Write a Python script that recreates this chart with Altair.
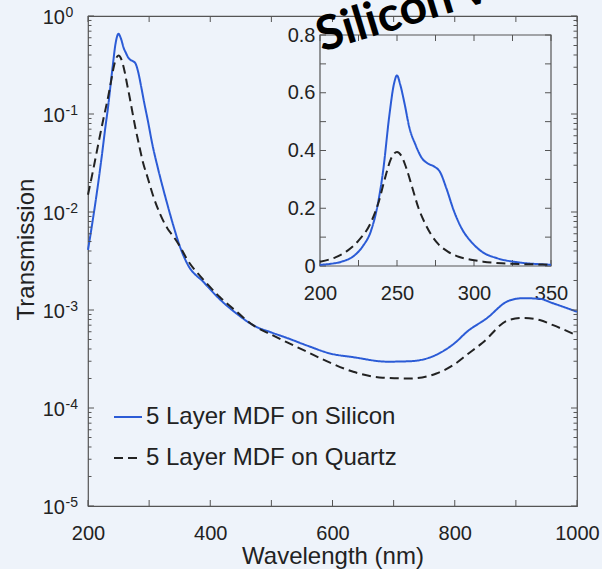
import altair as alt
import pandas as pd

# ---------------- data ----------------
wl_silicon = [200, 206, 214, 222, 228, 233, 237, 241, 245, 248, 250, 252, 255, 258, 262,
              266, 270, 274, 278, 282, 287, 292, 298, 305, 315, 329, 341, 350, 362, 390,
              416, 445, 470, 500, 525, 560, 596, 634, 690, 727, 776, 800, 820, 852, 888,
              912, 939, 961, 1000]
t_silicon = [0.0041, 0.0070, 0.015, 0.035, 0.07, 0.12, 0.20, 0.33, 0.52, 0.63, 0.66, 0.63,
             0.56, 0.48, 0.42, 0.375, 0.355, 0.345, 0.325, 0.27, 0.19, 0.13, 0.085, 0.050,
             0.027, 0.0125, 0.0068, 0.0045, 0.0030, 0.0019, 0.00128, 9.0e-4, 7.0e-4, 5.9e-4,
             5.2e-4, 4.3e-4, 3.6e-4, 3.3e-4, 2.97e-4, 3.0e-4, 3.65e-4, 4.6e-4, 6.0e-4,
             8.2e-4, 1.24e-3, 1.32e-3, 1.3e-3, 1.17e-3, 9.6e-4]

wl_quartz = [200, 210, 217, 225, 233, 238, 242, 246, 250, 253, 256, 260, 264, 268, 272,
             277, 283, 290, 298, 306, 318, 330, 340, 350, 362, 390, 416, 445, 470, 500,
             525, 560, 596, 634, 682, 727, 770, 798, 820, 845, 888, 912, 939, 961, 1000]
t_quartz = [0.015, 0.030, 0.050, 0.088, 0.15, 0.22, 0.30, 0.37, 0.395, 0.38, 0.34, 0.27,
            0.20, 0.15, 0.11, 0.075, 0.050, 0.032, 0.022, 0.015, 0.0095, 0.0068, 0.0056,
            0.0045, 0.0033, 0.0020, 0.00135, 9.4e-4, 7.0e-4, 5.6e-4, 4.7e-4, 3.7e-4, 2.9e-4,
            2.34e-4, 2.04e-4, 2.0e-4, 2.25e-4, 2.75e-4, 3.5e-4, 4.6e-4, 7.9e-4, 8.3e-4,
            7.9e-4, 7.0e-4, 5.5e-4]

series_names = ["5 Layer MDF on Silicon", "5 Layer MDF on Quartz"]

main_x_domain = [200, 1000]
main_y_domain = [1e-5, 1]
main_x_ticks = [200, 300, 400, 500, 600, 700, 800, 900, 1000]
main_x_labels = [200, 400, 600, 800, 1000]
main_y_major = [1e-5, 1e-4, 1e-3, 1e-2, 1e-1, 1]
main_y_base = ["10", "10", "10", "10", "10", "10"]
main_y_exponent = ["-5", "-4", "-3", "-2", "-1", "0"]
main_y_minor = [m * 10.0 ** e for e in range(-5, 0) for m in range(2, 10)]

inset_x_domain = [200, 350]
inset_y_domain = [0, 0.8]
inset_x_ticks = [200, 225, 250, 275, 300, 325, 350]
inset_x_labels = [200, 250, 300, 350]
inset_y_ticks = [0, 0.1, 0.2, 0.3, 0.4, 0.5, 0.6, 0.7, 0.8]
inset_y_labels = [0, 0.2, 0.4, 0.6, 0.8]

annotation_text = ["Silicon vs. Quartz"]
annotation_x = [583]
annotation_y = [0.43]

# ---------------- styles / layout ----------------
W, H = 489, 490
IN_L, IN_R, IN_T, IN_B = 232, 463, 19, 250
BG = "#eef3fa"
FRAME = "#555555"
TXT = "#222222"
FONT = "Liberation Sans"
COLORS = ["#2b5bd6", "#222222"]
DASHES = [[1, 0], [9, 5]]

df = pd.concat([
    pd.DataFrame({"wavelength": wl_silicon, "transmission": t_silicon, "series": series_names[0]}),
    pd.DataFrame({"wavelength": wl_quartz, "transmission": t_quartz, "series": series_names[1]}),
], ignore_index=True)
df_inset = df[df["wavelength"] <= 350]


def mx(field, axis=None):
    return alt.X(field, type="quantitative",
                 scale=alt.Scale(domain=main_x_domain, nice=False, zero=False), axis=axis)


def my(field, axis=None):
    return alt.Y(field, type="quantitative",
                 scale=alt.Scale(type="log", domain=main_y_domain, nice=False), axis=axis)


def ix(field, axis=None):
    return alt.X(field, type="quantitative",
                 scale=alt.Scale(domain=inset_x_domain, range=[IN_L, IN_R], nice=False, zero=False),
                 axis=axis)


def iy(field, axis=None):
    return alt.Y(field, type="quantitative",
                 scale=alt.Scale(domain=inset_y_domain, range=[IN_B, IN_T], nice=False, zero=False),
                 axis=axis)


leg = dict(orient="none", legendX=25, legendY=386, title=None, symbolType="stroke",
           symbolSize=784, symbolStrokeWidth=2, labelFontSize=24, labelFont=FONT,
           labelColor=TXT, labelLimit=600, rowPadding=14, labelOffset=3, padding=0)

color_main = alt.Color("series:N", scale=alt.Scale(domain=series_names, range=COLORS),
                       sort=series_names, legend=alt.Legend(**leg))
dash_main = alt.StrokeDash("series:N", scale=alt.Scale(domain=series_names, range=DASHES),
                           sort=series_names, legend=alt.Legend(**leg))
color_in = alt.Color("series:N", scale=alt.Scale(domain=series_names, range=COLORS),
                     sort=series_names, legend=None)
dash_in = alt.StrokeDash("series:N", scale=alt.Scale(domain=series_names, range=DASHES),
                         sort=series_names, legend=None)

x_axis = alt.Axis(values=main_x_labels, format="d", ticks=False, domain=False, grid=False,
                  labelFontSize=20, labelPadding=17, labelFlush=False, labelOverlap=False,
                  title="Wavelength (nm)", titleFontSize=24, titleFontWeight="normal",
                  titleY=57, titleBaseline="alphabetic")
y_axis = alt.Axis(values=main_y_major, ticks=False, domain=False, grid=False, labels=False,
                  title="Transmission", titleFontSize=24, titleFontWeight="normal",
                  titleX=-55, titleY=H / 2 - 12, titleAngle=270, titleBaseline="alphabetic",
                  titleAlign="center")

main_lines = alt.Chart(df).mark_line(strokeWidth=2, interpolate="monotone").encode(
    x=mx("wavelength", x_axis), y=my("transmission", y_axis),
    color=color_main, strokeDash=dash_main)

# y tick labels of the log axis: "10" with a raised exponent
ylab = pd.DataFrame({"v": main_y_major, "base": main_y_base, "exp": main_y_exponent})
ylab_base = alt.Chart(ylab).mark_text(
    align="right", baseline="middle", dy=2, fontSize=20, font=FONT, color=TXT
).encode(y=my("v"), x=alt.value(-23), text="base:N")
ylab_exp = alt.Chart(ylab).mark_text(
    align="left", baseline="middle", dy=-3, dx=0.5, fontSize=14, font=FONT, color=TXT
).encode(y=my("v"), x=alt.value(-23), text="exp:N")

xt = pd.DataFrame({"v": main_x_ticks})
ymaj = pd.DataFrame({"v": main_y_major})
ymin = pd.DataFrame({"v": main_y_minor})
rule = dict(color=FRAME, strokeWidth=1)

ticks_main = [
    alt.Chart(xt).mark_rule(**rule).encode(x=mx("v"), y=alt.value(H), y2=alt.value(H - 6)),
    alt.Chart(xt).mark_rule(**rule).encode(x=mx("v"), y=alt.value(0), y2=alt.value(6)),
    alt.Chart(ymaj).mark_rule(**rule).encode(y=my("v"), x=alt.value(0), x2=alt.value(6)),
    alt.Chart(ymin).mark_rule(**rule).encode(y=my("v"), x=alt.value(0), x2=alt.value(3.5)),
    alt.Chart(ymaj).mark_rule(**rule).encode(y=my("v"), x=alt.value(W), x2=alt.value(W - 6)),
    alt.Chart(ymin).mark_rule(**rule).encode(y=my("v"), x=alt.value(W), x2=alt.value(W - 3.5)),
]

inset_box = alt.Chart(pd.DataFrame({"x": [inset_x_domain[0]], "x2": [inset_x_domain[1]],
                                    "y": [inset_y_domain[0]], "y2": [inset_y_domain[1]]})
                      ).mark_rect(fill=BG, stroke=FRAME, strokeWidth=1.2).encode(
    x=ix("x"), x2="x2", y=iy("y"), y2="y2")

ixt = pd.DataFrame({"v": inset_x_ticks})
iyt = pd.DataFrame({"v": inset_y_ticks})
ticks_inset = [
    alt.Chart(ixt).mark_rule(**rule).encode(x=ix("v"), y=alt.value(IN_B), y2=alt.value(IN_B - 6)),
    alt.Chart(ixt).mark_rule(**rule).encode(x=ix("v"), y=alt.value(IN_T), y2=alt.value(IN_T + 6)),
    alt.Chart(iyt).mark_rule(**rule).encode(y=iy("v"), x=alt.value(IN_L), x2=alt.value(IN_L + 6)),
    alt.Chart(iyt).mark_rule(**rule).encode(y=iy("v"), x=alt.value(IN_R), x2=alt.value(IN_R - 6)),
]

ix_axis = alt.Axis(orient="bottom", offset=-(H - IN_B), values=inset_x_labels, format="d",
                   ticks=False, domain=False, grid=False, labelFontSize=20, labelPadding=17,
                   labelFlush=False, labelOverlap=False, title=None)
iy_axis = alt.Axis(orient="left", offset=-IN_L, values=inset_y_labels, format=".1~f",
                   ticks=False, domain=False, grid=False, labelFontSize=20, labelPadding=5,
                   labelFlush=False, labelOverlap=False, title=None)

inset_lines = alt.Chart(df_inset).mark_line(strokeWidth=2, interpolate="monotone").encode(
    x=ix("wavelength", ix_axis), y=iy("transmission", iy_axis),
    color=color_in, strokeDash=dash_in)

annotation = alt.Chart(pd.DataFrame({"label": annotation_text, "x": annotation_x,
                                     "y": annotation_y})).mark_text(
    angle=343, align="left", baseline="alphabetic", font="Lato", fontWeight="bold",
    fontSize=48, color="black").encode(x=mx("x"), y=my("y"), text="label:N")

chart = alt.layer(
    main_lines, ylab_base, ylab_exp, *ticks_main, inset_box, *ticks_inset, inset_lines,
    annotation
).resolve_scale(
    x="independent", y="independent", color="shared", strokeDash="shared"
).properties(
    width=W, height=H, background=BG,
    padding={"left": 88, "top": 16, "right": 25, "bottom": 63},
    autosize=alt.AutoSizeParams(type="none"),
).configure_view(
    stroke=FRAME, strokeWidth=1.2
).configure_axis(
    labelFont=FONT, titleFont=FONT, labelColor=TXT, titleColor=TXT
)

chart.save("out.html", embed_options={"renderer": "svg", "actions": False})
